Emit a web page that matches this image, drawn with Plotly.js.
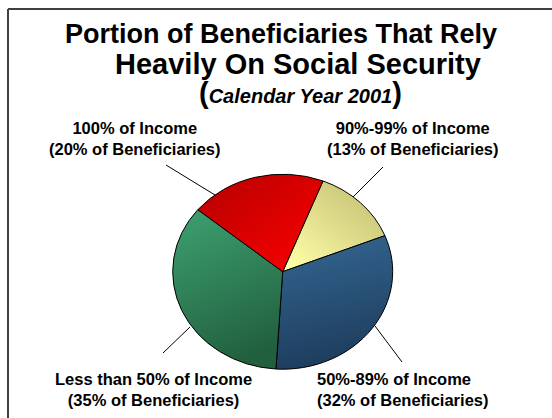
<!DOCTYPE html>
<html>
<head>
<meta charset="utf-8">
<script src="https://cdn.plot.ly/plotly-3.0.1.min.js"></script>
<style>
  html, body { margin: 0; padding: 0; background: #ffffff; }
  #chart { width: 552px; height: 418px; }
</style>
</head>
<body>
<div id="chart"></div>
<script>
// ---- data ----
var sliceLabels = ["90%-99% of Income", "50%-89% of Income", "Less than 50% of Income", "100% of Income"];
var sliceValues = [13, 32, 35, 20];
var labelLines2 = ["(13% of Beneficiaries)", "(32% of Beneficiaries)", "(35% of Beneficiaries)", "(20% of Beneficiaries)"];
var titleLine1 = "Portion of Beneficiaries That Rely";
var titleLine2 = "Heavily On Social Security";
var subtitleText = "Calendar Year 2001";

// ---- styles ----
var flatColors = ["#E4E38F", "#2A5078", "#2E7D55", "#DD0000"];
var gradStops = [
  {x1: 1, y1: 0, x2: 0.1, y2: 1, c1: "#BDB96E", c2: "#FFFFA8"},
  {x1: 0.3, y1: 0, x2: 0.5, y2: 1, c1: "#336590", c2: "#1D3B5B"},
  {x1: 0.2, y1: 0, x2: 0.5, y2: 1, c1: "#3C9E6E", c2: "#215F3E"},
  {x1: 0, y1: 0, x2: 1, y2: 1, c1: "#B40000", c2: "#FF0000"}
];
var W = 552, H = 418;
function px(x) { return x / W; }
function py(y) { return 1 - y / H; }
var FONT = "Liberation Sans, Arial, Helvetica, sans-serif";

// pie geometry (pixels)
var cx = 282.7, cy = 271.7, ry = 97.5, rx = 110;

var trace = {
  type: "pie",
  labels: sliceLabels,
  values: sliceValues,
  sort: false,
  direction: "clockwise",
  rotation: 21.5,
  textinfo: "none",
  hoverinfo: "none",
  showlegend: false,
  marker: { colors: flatColors, line: { color: "#000000", width: 1 } },
  domain: { x: [px(cx - ry), px(cx + ry)], y: [py(cy + ry), py(cy - ry)] }
};

function labelText(i) { return sliceLabels[i] + "<br>" + labelLines2[i]; }

var annotations = [
  { text: titleLine2, x: px(298), y: py(64), xanchor: "center", yanchor: "middle", font: { size: 29, weight: "bold" } },
  { text: "<span style='font-size:29px'>(</span><i>" + subtitleText + "</i><span style='font-size:29px'>)</span>",
    x: px(300), y: py(93), xanchor: "center", yanchor: "middle", font: { size: 20, weight: "bold" } },
  { text: labelText(3), x: px(134.5), y: py(138), xanchor: "center", yanchor: "middle", align: "center" },
  { text: labelText(0), x: px(412), y: py(138), xanchor: "center", yanchor: "middle", align: "center" },
  { text: labelText(2), x: px(153), y: py(389), xanchor: "center", yanchor: "middle", align: "center" },
  { text: labelText(1), x: px(315), y: py(389), xanchor: "left", yanchor: "middle", align: "left" }
].map(function (a) {
  a.xref = "paper"; a.yref = "paper"; a.showarrow = false;
  if (!a.font) a.font = { size: 16.5, weight: "bold" };
  a.font.family = FONT; a.font.color = "#000000";
  return a;
});

function seg(x0, y0, x1, y1, color, width) {
  return { type: "line", xref: "paper", yref: "paper", x0: px(x0), y0: py(y0), x1: px(x1), y1: py(y1),
           line: { color: color, width: width } };
}
var shapes = [
  seg(8, 9, 552, 9, "#404040", 2),
  seg(8, 9, 8, 418, "#404040", 2),
  seg(166, 165, 215, 195, "#000000", 1),
  seg(383, 167, 353, 197, "#000000", 1),
  seg(375, 326, 402, 362, "#000000", 1),
  seg(190, 327, 163, 353, "#000000", 1)
];

var layout = {
  width: W, height: H,
  margin: { l: 0, r: 0, t: 0, b: 0 },
  paper_bgcolor: "#ffffff",
  plot_bgcolor: "#ffffff",
  title: {
    text: titleLine1,
    font: { family: FONT, size: 27, weight: "bold", color: "#000000" },
    x: px(281), xanchor: "center", xref: "paper",
    y: py(34), yanchor: "middle", yref: "container"
  },
  annotations: annotations,
  shapes: shapes,
  showlegend: false
};

Plotly.newPlot("chart", [trace], layout, { staticPlot: true, displayModeBar: false }).then(function (gd) {
  try {
    var ns = "http://www.w3.org/2000/svg";
    var svg = gd.querySelector("svg.main-svg");
    var defs = document.createElementNS(ns, "defs");
    svg.insertBefore(defs, svg.firstChild);
    gradStops.forEach(function (g, i) {
      var lg = document.createElementNS(ns, "linearGradient");
      lg.setAttribute("id", "sliceGrad" + i);
      lg.setAttribute("x1", g.x1); lg.setAttribute("y1", g.y1);
      lg.setAttribute("x2", g.x2); lg.setAttribute("y2", g.y2);
      [[0, g.c1], [1, g.c2]].forEach(function (s) {
        var st = document.createElementNS(ns, "stop");
        st.setAttribute("offset", s[0]);
        st.setAttribute("stop-color", s[1]);
        lg.appendChild(st);
      });
      defs.appendChild(lg);
    });
    var paths = gd.querySelectorAll(".pielayer g.slice path.surface");
    paths.forEach(function (p, i) {
      p.style.fill = "url(#sliceGrad" + i + ")";
      p.setAttribute("vector-effect", "non-scaling-stroke");
    });
    var layer = gd.querySelector(".pielayer");
    var k = rx / ry;
    layer.setAttribute("transform", "translate(" + (cx * (1 - k)) + ",0) scale(" + k + ",1)");
  } catch (e) { console.log(e); }
});
</script>
</body>
</html>
